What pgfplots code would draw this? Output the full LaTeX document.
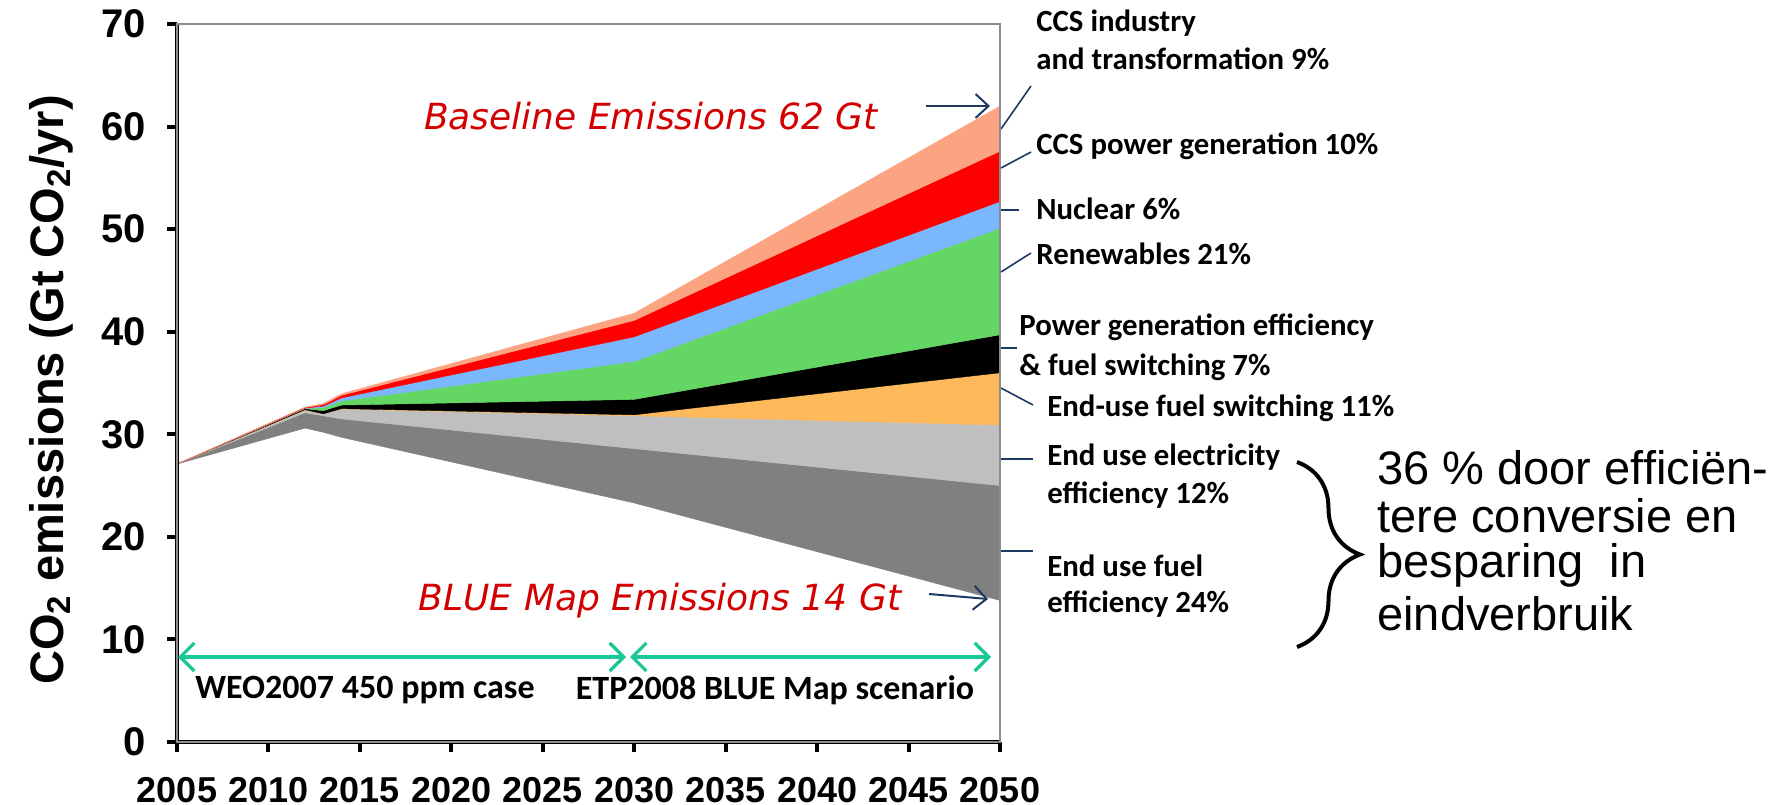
\documentclass[border=0pt]{standalone}
\usepackage{fontspec}
\setmainfont{Liberation Sans}
\newfontfamily\calibri{Carlito}
\newfontfamily\tahoma{DejaVu Sans}
\usepackage{pgfplots}
\pgfplotsset{compat=1.18}
\usepackage{pgfplotstable}
\usepgfplotslibrary{fillbetween}
\usetikzlibrary{arrows.meta,decorations.pathreplacing}

\definecolor{salmon}{RGB}{252,163,130}
\definecolor{ccsred}{RGB}{255,0,0}
\definecolor{nucblue}{RGB}{122,183,252}
\definecolor{rengreen}{RGB}{100,214,100}
\definecolor{orng}{RGB}{253,185,90}
\definecolor{ltgray}{RGB}{191,191,191}
\definecolor{dkgray}{RGB}{128,128,128}
\definecolor{teal2}{RGB}{25,200,150}
\definecolor{navy2}{RGB}{31,56,100}
\definecolor{txtred}{RGB}{210,0,0}

% cumulative boundaries of the stacked wedges (Gt CO2/yr)
% b0 = BLUE Map emissions, b8 = baseline emissions
\pgfplotstableread{
year b0   b1   b2    b3   b4    b5    b6    b7   b8
2005 27.1 27.1 27.1  27.1 27.1  27.1  27.1  27.1 27.1
2012 30.6 32.1 32.35 32.4 32.5  32.52 32.55 32.6 32.65
2013 30.2 31.8 32.0  32.0 32.3  32.6  32.75 32.9 33.0
2014 29.7 31.5 32.45 32.5 32.85 33.25 33.55 33.8 33.95
2030 23.3 28.6 31.8  31.9 33.4  37.1  39.5  41.1 41.8
2050 13.8 25.0 30.9  36.0 39.7  50.1  52.7  57.6 62.0
}\emis

\begin{document}
\begin{tikzpicture}
\begin{axis}[
  at={(0,0)}, anchor=south west,
  scale only axis, width=411.5pt, height=359pt,
  xmin=2005, xmax=2050, ymin=0, ymax=70,
  xtick={2005,2010,...,2050}, ytick={0,10,...,70},
  xtick pos=left, ytick pos=left,
  axis line style={black!45,line width=0.6pt},
  tick align=outside, major tick length=5pt,
  every tick/.style={line width=2pt,black},
  x tick label style={font=\fontsize{18}{18}\selectfont\bfseries,/pgf/number format/1000 sep={},yshift=-9pt},
  y tick label style={font=\fontsize{20}{20}\selectfont\bfseries,xshift=-7pt},
  /pgf/number format/assume math mode=true,
  clip=false, axis on top,
]
\addplot[draw=none,name path=p0] table[x=year,y=b0]{\emis};
\addplot[draw=none,name path=p1] table[x=year,y=b1]{\emis};
\addplot[draw=none,name path=p2] table[x=year,y=b2]{\emis};
\addplot[draw=none,name path=p3] table[x=year,y=b3]{\emis};
\addplot[draw=none,name path=p4] table[x=year,y=b4]{\emis};
\addplot[draw=none,name path=p5] table[x=year,y=b5]{\emis};
\addplot[draw=none,name path=p6] table[x=year,y=b6]{\emis};
\addplot[draw=none,name path=p7] table[x=year,y=b7]{\emis};
\addplot[draw=none,name path=p8] table[x=year,y=b8]{\emis};
\addplot[fill=dkgray,draw=dkgray,line width=0.2pt] fill between[of=p1 and p0];
\addplot[fill=ltgray,draw=ltgray,line width=0.2pt] fill between[of=p2 and p1];
\addplot[fill=orng,draw=orng,line width=0.2pt] fill between[of=p3 and p2];
\addplot[fill=black,draw=black,line width=0.2pt] fill between[of=p4 and p3];
\addplot[fill=rengreen,draw=rengreen,line width=0.2pt] fill between[of=p5 and p4];
\addplot[fill=nucblue,draw=nucblue,line width=0.2pt] fill between[of=p6 and p5];
\addplot[fill=ccsred,draw=ccsred,line width=0.2pt] fill between[of=p7 and p6];
\addplot[fill=salmon,draw=salmon,line width=0.2pt] fill between[of=p8 and p7];
\draw[black,line width=2pt] (rel axis cs:0,1) -- (rel axis cs:0,0) -- (rel axis cs:1,0);
\end{axis}

\begin{scope}[shift={(-88.5pt,371pt)},x=0.5pt,y=-0.5pt]
% y label
\node[rotate=90,font=\fontsize{23.5}{23.5}\selectfont\bfseries] at (51,390) {CO\textsubscript{2} emissions (Gt CO\textsubscript{2}/yr)};
% red italic labels
\node[font=\tahoma\itshape\fontsize{18}{18}\selectfont,text=txtred] at (651,116) {Baseline Emissions 62 Gt};
\node[font=\tahoma\itshape\fontsize{18}{18}\selectfont,text=txtred] at (660,601) {BLUE Map Emissions 14 Gt};
\draw[navy2,line width=1pt,-{Straight Barb[length=6.5pt,width=12pt]}] (926,106) -- (990,106);
\draw[navy2,line width=1pt,-{Straight Barb[length=6.5pt,width=12pt]}] (929,594) -- (988,599);
% teal period arrows
\draw[teal2,line width=1.6pt,{Straight Barb[length=7pt,width=14pt]}-{Straight Barb[length=7pt,width=14pt]}] (178,657) -- (626,657);
\draw[teal2,line width=1.6pt,{Straight Barb[length=7pt,width=14pt]}-{Straight Barb[length=7pt,width=14pt]}] (630,657) -- (991,657);
\node[font=\calibri\bfseries\fontsize{17}{17}\selectfont] at (365,690) {WEO2007 450 ppm case};
\node[font=\calibri\bfseries\fontsize{17}{17}\selectfont] at (775,690) {ETP2008 BLUE Map scenario};
% right labels
\begin{scope}[every node/.style={anchor=west,inner sep=0pt,font=\calibri\bfseries\fontsize{15.4}{15.4}\selectfont}]
\node at (1036,23) {CCS industry};
\node at (1036,59) {and transformation 9\%};
\node at (1036,146) {CCS power generation 10\%};
\node at (1036,209) {Nuclear 6\%};
\node at (1036,254) {Renewables 21\%};
\node at (1019,327) {Power generation efficiency};
\node at (1019,367) {\& fuel switching 7\%};
\node at (1047,408) {End-use fuel switching 11\%};
\node at (1047,457) {End use electricity};
\node at (1047,495) {efficiency 12\%};
\node at (1047,566) {End use fuel};
\node at (1047,604) {efficiency 24\%};
\end{scope}
% connector lines
\begin{scope}[navy2,line width=0.8pt]
\draw (1031,86) -- (1001,129);
\draw (1031,152) -- (1001,168);
\draw (1001,210) -- (1019,210);
\draw (1001,272) -- (1031,253);
\draw (1001,348) -- (1017,348);
\draw (1001,388) -- (1033,405);
\draw (1001,459) -- (1033,459);
\draw (1001,551) -- (1033,551);
\end{scope}
% brace and Dutch text
\draw[decorate,decoration={brace,amplitude=31.5pt},line width=2pt] (1297,462) -- (1297,647);
\begin{scope}[every node/.style={anchor=west,inner sep=0pt,font=\fontsize{23.5}{23.5}\selectfont}]
\node at (1377,468) {36 \% door efficiën-};
\node at (1377,516) {tere conversie en};
\node at (1377,565) {besparing\ \ in};
\node at (1377,614) {eindverbruik};
\end{scope}
\pgfresetboundingbox
\path[use as bounding box] (0,0) rectangle (1789,804);
\end{scope}
\end{tikzpicture}
\end{document}
